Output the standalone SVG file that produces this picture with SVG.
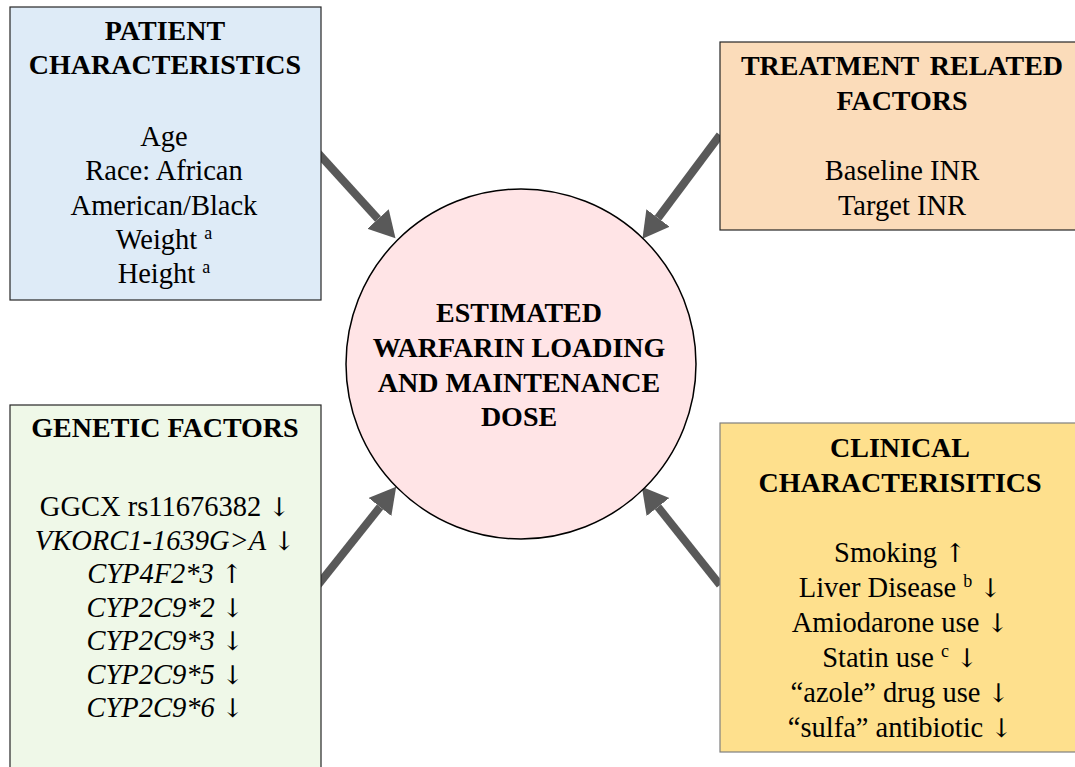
<svg xmlns="http://www.w3.org/2000/svg" width="1075" height="767" viewBox="0 0 1075 767">
<style>
  .box { stroke: #262626; stroke-width: 1.2; }
  .h { font-family: "Liberation Serif", "Times New Roman", serif; font-weight: bold; font-size: 28px; text-anchor: middle; fill: #000; }
  .t { font-family: "Liberation Serif", "Times New Roman", serif; font-size: 28.5px; text-anchor: middle; fill: #000; }
  .i { font-style: italic; }
  .ar { font-family: "DejaVu Serif", "DejaVu Sans", serif; font-size: 26px; fill: #000; }
  .sup { font-size: 18px; }
  .conn { stroke: #595959; stroke-width: 8; fill: none; marker-end: url(#ah); }
</style>
<defs>
  <marker id="ah" markerUnits="userSpaceOnUse" markerWidth="28" markerHeight="30" refX="0" refY="14.5" orient="auto" viewBox="0 0 28 30">
    <path d="M0,0 L26,14.5 L0,29 z" fill="#595959"/>
  </marker>
</defs>
<rect width="1075" height="767" fill="#ffffff"/>

<g id="connectors">
  <line class="conn" x1="318" y1="153" x2="378" y2="219"/>
  <line class="conn" x1="720" y1="135" x2="658" y2="218"/>
  <line class="conn" x1="318" y1="585" x2="380" y2="507"/>
  <line class="conn" x1="720" y1="585" x2="658" y2="507"/>
</g>

<g id="patient">
  <rect class="box" x="10" y="7" width="311" height="293" fill="#DEEBF7"/>
  <text class="h" x="165" y="40">PATIENT</text>
  <text class="h" x="165" y="74">CHARACTERISTICS</text>
  <text class="t" x="164" y="146">Age</text>
  <text class="t" x="164" y="180">Race: African</text>
  <text class="t" x="164" y="214.5">American/Black</text>
  <text class="t" x="164" y="249">Weight <tspan class="sup" dy="-10">a</tspan></text>
  <text class="t" x="164" y="283">Height <tspan class="sup" dy="-10">a</tspan></text>
</g>

<g id="treatment">
  <rect class="box" x="720" y="42" width="360" height="188" fill="#FBDCBA"/>
  <text class="h" x="902" y="75" word-spacing="4">TREATMENT RELATED</text>
  <text class="h" x="902" y="110">FACTORS</text>
  <text class="t" x="902" y="180">Baseline INR</text>
  <text class="t" x="902" y="215">Target INR</text>
</g>

<g id="genetic">
  <rect class="box" x="10" y="405" width="311" height="370" fill="#EFF8E8"/>
  <text class="h" x="165" y="437">GENETIC FACTORS</text>
  <text class="t" x="165" y="516">GGCX rs11676382 <tspan class="ar">↓</tspan></text>
  <text class="t" x="165" y="549.5"><tspan class="i">VKORC1-1639G&gt;A</tspan> <tspan class="ar">↓</tspan></text>
  <text class="t" x="165" y="583"><tspan class="i">CYP4F2*3</tspan> <tspan class="ar">↑</tspan></text>
  <text class="t" x="165" y="616.5"><tspan class="i">CYP2C9*2</tspan> <tspan class="ar">↓</tspan></text>
  <text class="t" x="165" y="650"><tspan class="i">CYP2C9*3</tspan> <tspan class="ar">↓</tspan></text>
  <text class="t" x="165" y="683.5"><tspan class="i">CYP2C9*5</tspan> <tspan class="ar">↓</tspan></text>
  <text class="t" x="165" y="717"><tspan class="i">CYP2C9*6</tspan> <tspan class="ar">↓</tspan></text>
</g>

<g id="clinical">
  <rect x="720" y="423" width="360" height="329" fill="#FEE08D" stroke="#7f7f7f" stroke-width="1.2"/>
  <text class="h" x="900" y="457">CLINICAL</text>
  <text class="h" x="900" y="492">CHARACTERISITICS</text>
  <text class="t" x="900" y="562">Smoking <tspan class="ar">↑</tspan></text>
  <text class="t" x="900" y="597">Liver Disease <tspan class="sup" dy="-10">b</tspan><tspan dy="10"> </tspan><tspan class="ar">↓</tspan></text>
  <text class="t" x="900" y="632">Amiodarone use <tspan class="ar">↓</tspan></text>
  <text class="t" x="900" y="667">Statin use <tspan class="sup" dy="-10">c</tspan><tspan dy="10"> </tspan><tspan class="ar">↓</tspan></text>
  <text class="t" x="900" y="702">“azole” drug use <tspan class="ar">↓</tspan></text>
  <text class="t" x="900" y="737">“sulfa” antibiotic <tspan class="ar">↓</tspan></text>
</g>

<g id="center">
  <circle cx="521" cy="364" r="175" fill="#FFE4E6" stroke="#000" stroke-width="1.5"/>
  <text class="h" x="519" y="322">ESTIMATED</text>
  <text class="h" x="519" y="357">WARFARIN LOADING</text>
  <text class="h" x="519" y="392">AND MAINTENANCE</text>
  <text class="h" x="519" y="426">DOSE</text>
</g>
</svg>
